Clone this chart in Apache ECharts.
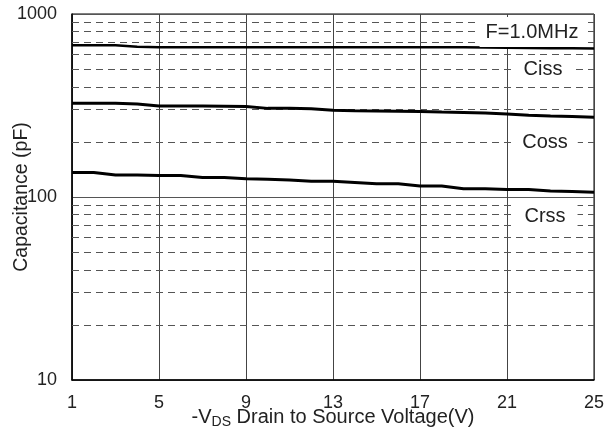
<!DOCTYPE html>
<html>
<head>
<meta charset="utf-8">
<script src="https://cdn.jsdelivr.net/npm/echarts@6/dist/echarts.min.js"></script>
<style>
html,body{margin:0;padding:0;background:#fff;}
#chart{width:605px;height:433px;}
</style>
</head>
<body>
<div id="chart"></div>
<script>
// -VDS (V)
var categories = ['1','2','3','4','5','6','7','8','9','10','11','12','13','14','15','16','17','18','19','20','21','22','23','24','25'];
// Capacitance (pF)
var ciss = [675,675,674,662,658,658,658,658,658,658,658,658,658,658,658,658,658,658,658,656,654,652,650,649,648];
var coss = [325,325,325,322,314,314,314,313,312,305,305,304,298,296,295,294,293,291,290,288,284,280,277,275,273];
var crss = [136,136,132,132,131,131,128,128,126,125,124,122,122,120,118,118,115,115,111,111,110,110,108,107,106];
// y tick labels and dashed minor grid values
var yTicks = [10,100,1000];
var minorGrid = [20,30,40,50,60,70,80,90,200,300,400,500,600,700,800,900];

var chart = echarts.init(document.getElementById('chart'));
var fontFam = '"Liberation Sans", Arial, sans-serif';

function curve(name, data, w, extra) {
  var s = {
    name: name,
    type: 'line',
    data: data,
    symbol: 'none',
    smooth: false,
    lineStyle: {color: '#000', width: w},
    z: 5,
    silent: true
  };
  if (extra) { for (var k in extra) s[k] = extra[k]; }
  return s;
}

function label(text, cx, cy, pad) {
  return {type: 'text', x: cx, y: cy, z: 100,
    style: {text: text, fontSize: 20, fontFamily: fontFam, fill: '#222', backgroundColor: '#fff',
      align: 'center', verticalAlign: 'middle', padding: pad}};
}

var option = {
  animation: false,
  backgroundColor: '#fff',
  grid: {left: 72, right: 11, top: 14, bottom: 53, show: true, borderColor: '#000', borderWidth: 1,
    containLabel: false, outerBoundsMode: 'none'},
  xAxis: {
    type: 'category',
    data: categories,
    boundaryGap: false,
    axisLine: {show: true, lineStyle: {color: '#000', width: 1.5}},
    axisTick: {show: false},
    axisLabel: {interval: 3, color: '#222', fontSize: 18, fontFamily: fontFam, margin: 14},
    splitLine: {show: true, interval: 3, lineStyle: {color: '#444', width: 1}},
    name: '{a|-V}{b|DS}{a| Drain to Source Voltage(V)}',
    nameLocation: 'middle',
    nameGap: 25,
    nameMoveOverlap: false,
    nameTextStyle: {
      rich: {
        a: {fontSize: 20, color: '#222', fontFamily: fontFam},
        b: {fontSize: 14, color: '#222', fontFamily: fontFam, verticalAlign: 'bottom', padding: [10,0,0,0]}
      }
    }
  },
  yAxis: {
    type: 'log',
    logBase: 10,
    min: 10,
    max: 1000,
    axisLine: {show: true, lineStyle: {color: '#000', width: 1.5}},
    axisTick: {show: false},
    axisLabel: {color: '#222', fontSize: 18, fontFamily: fontFam, margin: 15,
      formatter: function (v) { return yTicks.indexOf(Math.round(v)) >= 0 ? String(Math.round(v)) : ''; }},
    splitLine: {show: true, lineStyle: {color: '#555', width: 1}},
    name: 'Capacitance (pF)',
    nameLocation: 'middle',
    nameGap: 40,
    nameMoveOverlap: false,
    nameTextStyle: {fontSize: 19.5, color: '#222', fontFamily: fontFam}
  },
  series: [
    curve('Ciss', ciss, 2.5, {
      markLine: {
        silent: true,
        symbol: 'none',
        label: {show: false},
        lineStyle: {color: '#555', width: 1, type: [7, 5]},
        data: minorGrid.map(function (v) { return {yAxis: v}; }),
        z: 1
      }
    }),
    curve('Coss', coss, 3),
    curve('Crss', crss, 3)
  ],
  graphic: [
    label('F=1.0MHz', 532, 32, [5, 6, 5, 6]),
    label('Ciss', 543, 69, [1, 9, 1, 9]),
    label('Coss', 545, 142, [5, 10, 5, 10]),
    label('Crss', 545, 216, [7, 12, 7, 12])
  ]
};
chart.setOption(option);
</script>
</body>
</html>
